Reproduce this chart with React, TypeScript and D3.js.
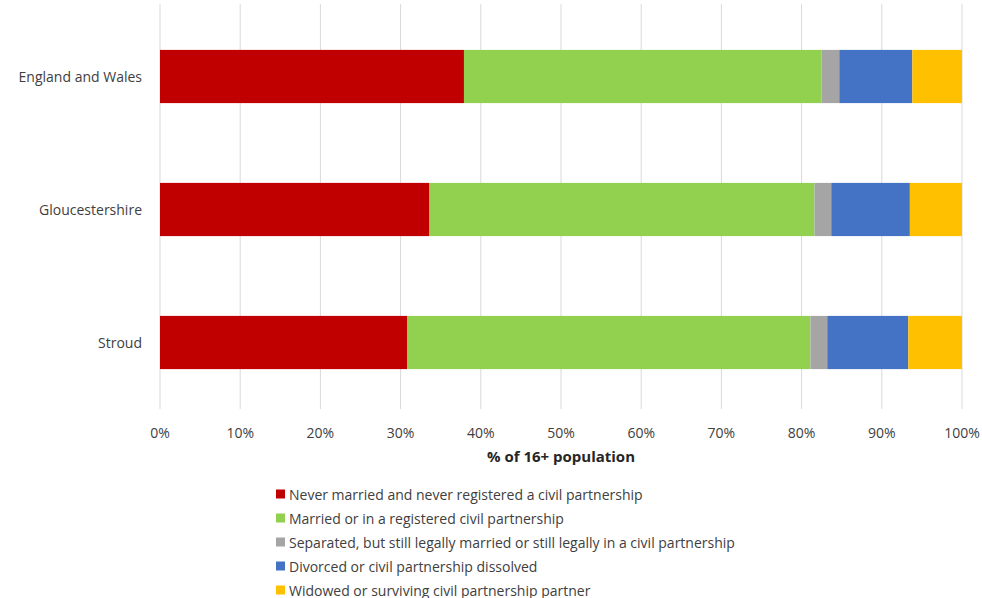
import React from "react";
import * as d3 from "d3";

const categories = ["England and Wales", "Gloucestershire", "Stroud"];
const seriesNames = [
  "Never married and never registered a civil partnership",
  "Married or in a registered civil partnership",
  "Separated, but still legally married or still legally in a civil partnership",
  "Divorced or civil partnership dissolved",
  "Widowed or surviving civil partnership partner",
];
const seriesColors = ["#C00000", "#92D050", "#A5A5A5", "#4472C4", "#FFC000"];
const neverMarried = [37.9, 33.6, 30.8];
const married = [44.6, 48.0, 50.3];
const separated = [2.2, 2.1, 2.1];
const divorced = [9.1, 9.8, 10.1];
const widowed = [6.2, 6.5, 6.7];
const xTicks = [0, 10, 20, 30, 40, 50, 60, 70, 80, 90, 100];
const xAxisTitle = "% of 16+ population";

const W = 982;
const H = 598;
const FONT = "'Open Sans', 'Noto Sans', sans-serif";

export default function App() {
  const seriesValues = [neverMarried, married, separated, divorced, widowed];
  const x = d3.scaleLinear().domain([0, 100]).range([160, 962]);
  const y = d3.scaleBand<string>().domain(categories).range([10, 409]).paddingInner(0.6).paddingOuter(0.3);

  const rows = categories.map((c, i) => {
    const obj: Record<string, number | string> = { cat: c };
    seriesNames.forEach((s, k) => (obj[s] = seriesValues[k][i]));
    return obj;
  });
  const stack = d3.stack<Record<string, number | string>>().keys(seriesNames)(rows as any);

  return (
    <div style={{ position: "absolute", left: 0, top: 0 }}>
      <svg width={W} height={H} style={{ display: "block", background: "#fff" }} fontFamily={FONT}>
        {xTicks.map((t) => (
          <line key={t} x1={x(t)} x2={x(t)} y1={4} y2={409} stroke="#D9D9D9" strokeWidth={1} />
        ))}
        {stack.map((layer, k) => (
          <g key={k} fill={seriesColors[k]}>
            {layer.map((d, i) => (
              <rect
                key={i}
                x={x(d[0])}
                width={x(d[1]) - x(d[0])}
                y={y(categories[i])}
                height={y.bandwidth()}
              />
            ))}
          </g>
        ))}
        {categories.map((c) => (
          <text
            key={c}
            x={142}
            y={(y(c) as number) + y.bandwidth() / 2}
            textAnchor="end"
            dominantBaseline="central"
            fontSize={14}
            fill="#404040"
          >
            {c}
          </text>
        ))}
        {xTicks.map((t) => (
          <text key={t} x={x(t)} y={432} textAnchor="middle" dominantBaseline="central" fontSize={14} fill="#404040">
            {t + "%"}
          </text>
        ))}
        <text x={x(50)} y={456} textAnchor="middle" dominantBaseline="central" fontSize={15} fontWeight="bold" fill="#262626">
          {xAxisTitle}
        </text>
        {seriesNames.map((s, k) => (
          <g key={s} transform={`translate(276, ${494 + k * 24})`}>
            <rect x={0} y={-4.5} width={9} height={9} fill={seriesColors[k]} />
            <text x={13} y={0} dominantBaseline="central" fontSize={14} fill="#404040">
              {s}
            </text>
          </g>
        ))}
      </svg>
    </div>
  );
}
